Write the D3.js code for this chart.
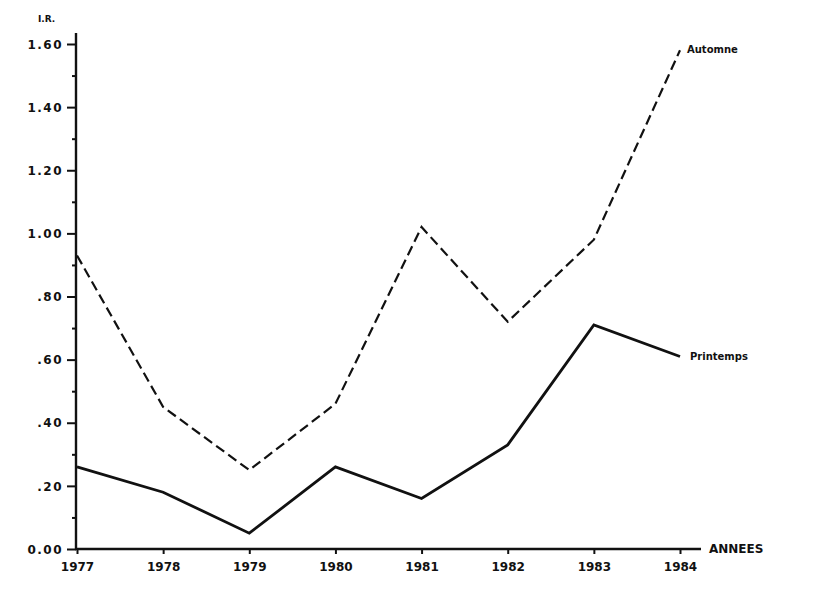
<!DOCTYPE html>
<html><head><meta charset="utf-8">
<script src="https://cdn.jsdelivr.net/npm/d3@7"></script>
<style>
body{margin:0;background:#fff;}
text{font-family:"DejaVu Sans",sans-serif;font-weight:bold;fill:#111;}
</style></head>
<body><svg id="c" width="820" height="600"></svg>
<script>
const years = [1977,1978,1979,1980,1981,1982,1983,1984];
const automne = [0.93,0.45,0.25,0.46,1.02,0.72,0.98,1.58];
const printemps = [0.26,0.18,0.05,0.26,0.16,0.33,0.71,0.61];
const yTicks = [0,0.2,0.4,0.6,0.8,1.0,1.2,1.4,1.6];
const yTickLabels = ["0.00",".20",".40",".60",".80","1.00","1.20","1.40","1.60"];
const yMinor = [0.1,0.3,0.5,0.7,0.9,1.1,1.3,1.5];

const svg = d3.select("#c");
const x = d3.scaleLinear().domain([1977,1984]).range([77,680]);
const y = d3.scaleLinear().domain([0,1.6]).range([549,44]);
const ink = "#111";

// axes lines
svg.append("line").attr("x1",76).attr("x2",76).attr("y1",33).attr("y2",550).attr("stroke",ink).attr("stroke-width",2.4);
svg.append("line").attr("x1",75).attr("x2",701).attr("y1",549).attr("y2",549).attr("stroke",ink).attr("stroke-width",2.4);

// y ticks
const yAxis = d3.axisLeft(y).tickValues(yTicks).tickSize(9).tickPadding(4)
  .tickFormat((d,i)=>yTickLabels[i]);
const gy = svg.append("g").attr("transform","translate(76,0)").call(yAxis);
gy.select(".domain").remove();
gy.selectAll("line").attr("stroke",ink).attr("stroke-width",2);
gy.selectAll("text").attr("font-size",12).attr("letter-spacing","1.5px").attr("dy","0.35em").style("font-family","DejaVu Sans").style("font-weight","bold");
const gym = svg.append("g").attr("transform","translate(76,0)").call(d3.axisLeft(y).tickValues(yMinor).tickSize(4).tickFormat(""));
gym.select(".domain").remove();
gym.selectAll("line").attr("stroke",ink).attr("stroke-width",2);

// x ticks
const xAxis = d3.axisBottom(x).tickValues(years).tickSize(5).tickPadding(8).tickFormat(d3.format("d"));
const gx = svg.append("g").attr("transform","translate(0,549)").call(xAxis);
gx.select(".domain").remove();
gx.selectAll("line").attr("stroke",ink).attr("stroke-width",2);
gx.selectAll("text").attr("font-size",12).style("font-family","DejaVu Sans").style("font-weight","bold");

// lines
const line = d3.line().x((d,i)=>x(years[i])).y(d=>y(d));
svg.append("path").datum(automne).attr("d",line).attr("fill","none").attr("stroke",ink)
  .attr("stroke-width",2.2).attr("stroke-dasharray","10,5");
svg.append("path").datum(printemps).attr("d",line).attr("fill","none").attr("stroke",ink)
  .attr("stroke-width",2.8).attr("stroke-linejoin","miter");

// labels
svg.append("text").attr("x",38).attr("y",22).attr("font-size",9).text("I.R.");
svg.append("text").attr("x",x(1984)+7).attr("y",y(automne[7])+3).attr("font-size",10).text("Automne");
svg.append("text").attr("x",x(1984)+10).attr("y",y(printemps[7])+4).attr("font-size",10).text("Printemps");
svg.append("text").attr("x",709).attr("y",553).attr("font-size",12).text("ANNEES");
</script></body></html>
